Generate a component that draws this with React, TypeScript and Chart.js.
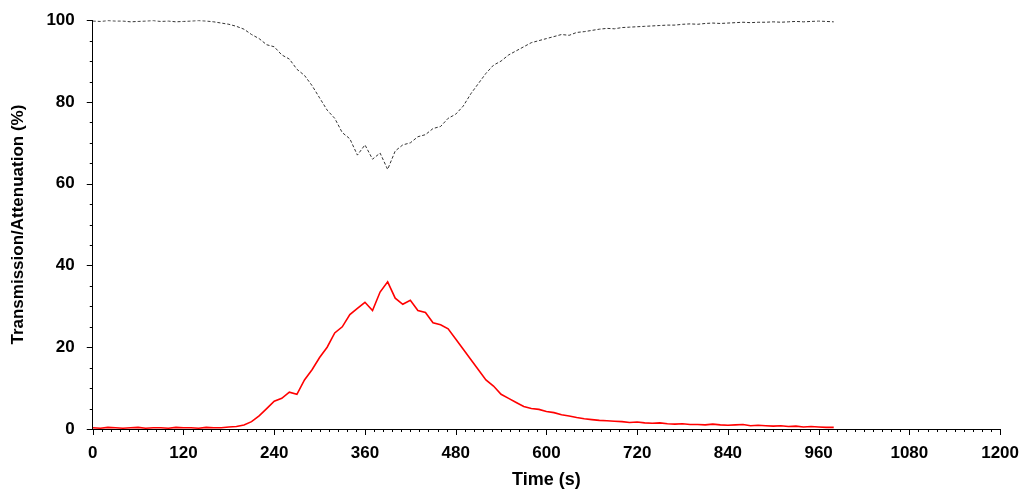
import React, { useEffect, useRef } from 'react';
import { Chart, registerables } from 'chart.js';

Chart.register(...registerables);

// time axis, one sample every 10 s
const times: number[] = Array.from({ length: 99 }, (_, i) => i * 10);

const attenuation: number[] = [
  0.3, 0.2, 0.4, 0.3, 0.2, 0.3, 0.4, 0.2, 0.3, 0.3, 0.2, 0.4, 0.3, 0.3, 0.2, 0.4, 0.3, 0.3, 0.5, 0.6,
  1.0, 1.8, 3.2, 5.0, 6.8, 7.5, 9.0, 8.5, 12.0, 14.5,
  17.5, 20.0, 23.5, 25.0, 28.0, 29.5, 31.0, 29.0, 33.5, 36.0,
  32.0, 30.5, 31.5, 29.0, 28.5, 26.0, 25.5, 24.5, 22.0, 19.5,
  17.0, 14.5, 12.0, 10.5, 8.5, 7.5, 6.5, 5.5, 5.0, 4.8,
  4.3, 4.0, 3.5, 3.2, 2.8, 2.5, 2.3, 2.1, 2.0, 1.9,
  1.8, 1.6, 1.7, 1.5, 1.4, 1.5, 1.3, 1.2, 1.3, 1.1,
  1.1, 1.0, 1.2, 1.0, 0.9, 1.0, 1.1, 0.8, 0.9, 0.8,
  0.7, 0.8, 0.6, 0.7, 0.5, 0.6, 0.5, 0.4, 0.4,
];

const transmission: number[] = [
  99.8, 99.7, 99.9, 99.8, 99.8, 99.6, 99.7, 99.8, 99.9, 99.7, 99.8, 99.6, 99.7, 99.8, 99.9, 99.8, 99.6, 99.3, 99.0, 98.5,
  97.8, 96.5, 95.5, 94.0, 93.5, 91.5, 90.5, 88.0, 86.5, 84.0,
  81.0, 78.0, 76.0, 72.5, 71.0, 67.0, 69.5, 66.0, 67.5, 63.5,
  68.0, 69.5, 70.0, 71.5, 72.0, 73.5, 74.0, 76.0, 77.0, 79.0,
  82.0, 84.5, 87.0, 89.0, 90.0, 91.5, 92.5, 93.5, 94.5, 95.0,
  95.5, 96.0, 96.5, 96.3, 97.0, 97.2, 97.5, 97.8, 98.0, 97.9,
  98.2, 98.3, 98.4, 98.5, 98.6, 98.7, 98.8, 98.8, 99.0, 99.1,
  99.0, 99.2, 99.3, 99.2, 99.3, 99.4, 99.5, 99.4, 99.5, 99.5,
  99.6, 99.5, 99.6, 99.7, 99.6, 99.7, 99.8, 99.7, 99.6,
];

const X_MAX = 1200;
const X_MAJOR = 120;
const X_MINOR = 12;
const Y_MAX = 100;
const Y_MAJOR = 20;
const Y_MINOR = 5;

// draws the outward major/minor tick marks
const tickMarks = {
  id: 'tickMarks',
  afterDraw(chart: Chart) {
    const { ctx, chartArea } = chart;
    const xs = chart.scales.x;
    const ys = chart.scales.y;
    ctx.save();
    ctx.strokeStyle = '#000';
    ctx.lineWidth = 1;
    ctx.beginPath();
    for (let v = 0; v <= X_MAX; v += X_MINOR) {
      const px = Math.round(xs.getPixelForValue(v)) + 0.5;
      const len = v % X_MAJOR === 0 ? 6 : 3;
      ctx.moveTo(px, chartArea.bottom);
      ctx.lineTo(px, chartArea.bottom + len);
    }
    for (let v = 0; v <= Y_MAX; v += Y_MINOR) {
      const py = Math.round(ys.getPixelForValue(v)) + 0.5;
      const len = v % Y_MAJOR === 0 ? 6 : 3;
      ctx.moveTo(chartArea.left, py);
      ctx.lineTo(chartArea.left - len, py);
    }
    ctx.stroke();
    ctx.restore();
  },
};

export default function App() {
  const canvasRef = useRef<HTMLCanvasElement>(null);

  useEffect(() => {
    const ctx = canvasRef.current?.getContext('2d');
    if (!ctx) return;
    const font = { family: 'Liberation Sans, Arial, sans-serif', weight: 'bold' as const, size: 17 };
    const chart = new Chart(ctx, {
      type: 'line',
      data: {
        datasets: [
          {
            label: 'Transmission',
            data: times.map((t, i) => ({ x: t, y: transmission[i] })),
            borderColor: '#333',
            borderWidth: 1,
            borderDash: [3, 2],
            pointRadius: 0,
            tension: 0,
          },
          {
            label: 'Attenuation',
            data: times.map((t, i) => ({ x: t, y: attenuation[i] })),
            borderColor: '#ff0000',
            borderWidth: 1.6,
            pointRadius: 0,
            tension: 0,
          },
        ],
      },
      options: {
        responsive: false,
        animation: false,
        devicePixelRatio: 1,
        layout: { padding: { top: 6, right: 15, left: 4, bottom: 0 } },
        plugins: { legend: { display: false }, tooltip: { enabled: false } },
        scales: {
          x: {
            type: 'linear',
            min: 0,
            max: X_MAX,
            grid: { display: false },
            border: { display: true, color: '#000', width: 1 },
            ticks: { stepSize: X_MAJOR, color: '#000', font, padding: 6, maxRotation: 0, callback: (v: string | number) => String(v) },
            title: { display: true, text: 'Time (s)', color: '#000', font: { ...font, size: 18 }, padding: { top: 0, bottom: 2 } },
          },
          y: {
            min: 0,
            max: Y_MAX,
            grid: { display: false },
            border: { display: true, color: '#000', width: 1 },
            ticks: { stepSize: Y_MAJOR, color: '#000', font, padding: 10 },
            title: { display: true, text: 'Transmission/Attenuation (%)', color: '#000', font: { ...font, size: 17 }, padding: { bottom: 8 } },
          },
        },
      },
      plugins: [tickMarks],
    });
    return () => chart.destroy();
  }, []);

  return (
    <div style={{ position: 'absolute', left: 0, top: 0, background: '#fff' }}>
      <canvas ref={canvasRef} width={1025} height={493} />
    </div>
  );
}
